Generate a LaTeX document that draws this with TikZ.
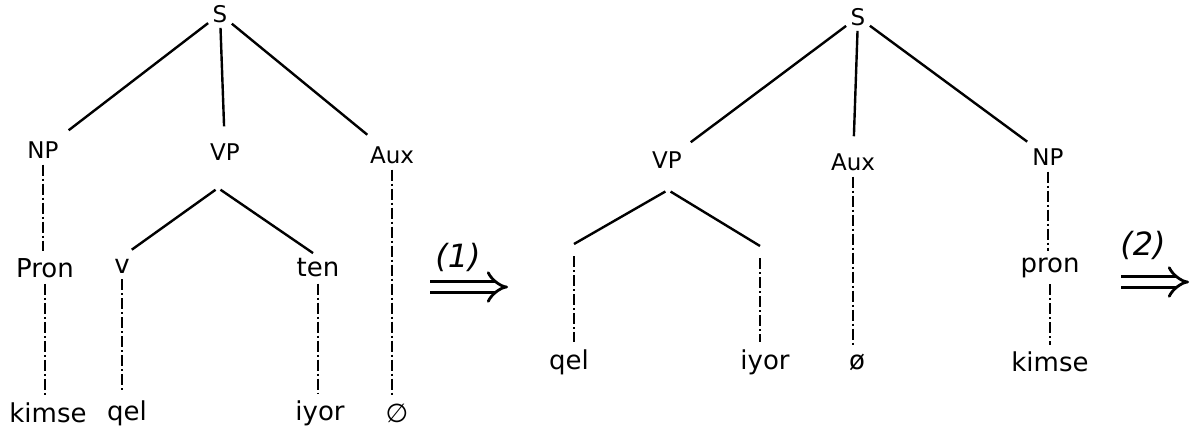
\documentclass[tikz,border=0pt]{standalone}
\usepackage{fontspec}
\setmainfont{DejaVu Sans}
\usetikzlibrary{arrows.meta,positioning}
\tikzset{
  cat/.style={font=\fontsize{23}{23}\selectfont,inner sep=2pt},
  leaf/.style={font=\fontsize{26}{26}\selectfont,inner sep=2pt},
  br/.style={line width=2.4pt,shorten <=3pt,shorten >=15pt},
  dd/.style={line width=2pt,dash pattern=on 11pt off 3pt on 2pt off 3pt,shorten <=4pt,shorten >=5pt},
  rulearr/.style={double,double distance=8pt,line width=2.8pt,-{Implies}},
  rulelab/.style={font=\itshape\fontsize{32}{32}\selectfont},
}
\begin{document}
\begin{tikzpicture}[x=1pt,y=-1pt]
  \useasboundingbox (0,0) rectangle (1196,441);
  % left tree
  \node[cat] (sA) at (220,14) {S};
  \node[cat] (npA) at (43,150) {NP};
  \node[cat] (vpA) at (225,152) {VP};
  \node[cat] (auxA) at (392,155) {Aux};
  \node[leaf] (pronA) at (45,268) {Pron};
  \node[leaf] (vA) at (122,266) {v};
  \node[leaf] (tenA) at (318,268) {ten};
  \node[leaf] (kimseA) at (48,413) {kimse};
  \node[leaf] (gelA) at (127,413) {qel};
  \node[leaf] (iyorA) at (320,413) {iyor};
  \node[leaf] (nullA) at (397,413) {∅};
  \coordinate (forkA) at (218,188);
  \foreach \t in {npA,vpA,auxA} \draw[br] (sA) -- (\t);
  \draw[br,shorten >=12pt] (forkA) -- (vA.north);
  \draw[br,shorten >=6pt] (forkA) -- (tenA.north);
  \foreach \a/\b in {npA/pronA,pronA/kimseA,vA/gelA,tenA/iyorA,auxA/nullA}
    \draw[dd] (\a.south) -- (\a.south |- \b.north);
  % rule 1
  \coordinate (r1a) at (430,287);
  \coordinate (r1b) at (508,287);
  \draw[rulearr] (r1a) -- (r1b);
  \node[rulelab] (r1) at (458,257) {(1)};
  % right tree
  \node[cat] (sB) at (858,17) {S};
  \node[cat] (vpB) at (667,160) {VP};
  \node[cat] (auxB) at (853,162) {Aux};
  \node[cat] (npB) at (1048,157) {NP};
  \node[leaf] (pronB) at (1050,268) {pron};
  \node[leaf] (gelB) at (569,362) {qel};
  \node[leaf] (iyorB) at (765,362) {iyor};
  \node[leaf] (nullB) at (857,362) {ø};
  \node[leaf] (kimseB) at (1050,362) {kimse};
  \coordinate (forkB) at (668,190);
  \coordinate (vB) at (574,244);
  \coordinate (tenB) at (760,246);
  \draw[br,shorten >=12pt] (sB) -- (vpB);
  \draw[br] (sB) -- (auxB);
  \draw[br,shorten >=8pt] (sB) -- (npB);
  \draw[br,shorten >=0pt] (forkB) -- (vB);
  \draw[br,shorten >=0pt] (forkB) -- (tenB);
  \draw[dd] (vB) ++(0,8) -- (vB |- gelB.north);
  \draw[dd] (tenB) ++(0,8) -- (tenB |- iyorB.north);
  \foreach \a/\b in {auxB/nullB,npB/pronB,pronB/kimseB}
    \draw[dd] (\a.south) -- (\a.south |- \b.north);
  % rule 2
  \coordinate (r2a) at (1121,282);
  \coordinate (r2b) at (1189,282);
  \draw[rulearr] (r2a) -- (r2b);
  \node[rulelab] (r2) at (1143,245) {(2)};
\end{tikzpicture}
\end{document}
